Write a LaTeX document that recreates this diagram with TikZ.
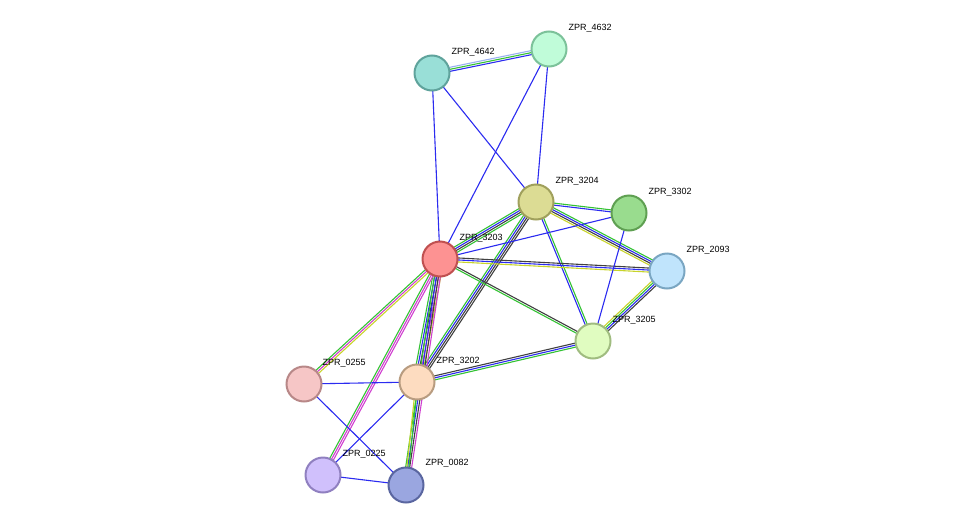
\documentclass[tikz,border=0pt]{standalone}
\usepackage{fontspec}
\setmainfont{Liberation Sans}
\usetikzlibrary{calc}
\pgfdeclarelayer{bg}\pgfsetlayers{bg,main}
\definecolor{sg}{HTML}{33C233}
\definecolor{sb}{HTML}{2B2BF0}
\definecolor{sk}{HTML}{404040}
\definecolor{sy}{HTML}{C8D42A}
\definecolor{sm}{HTML}{D040D0}
\definecolor{sl}{HTML}{9AB0F0}
\definecolor{f1}{HTML}{99DFD7}\definecolor{d1}{HTML}{5FA39C}
\definecolor{f2}{HTML}{C0FCD9}\definecolor{d2}{HTML}{7CC29A}
\definecolor{f3}{HTML}{DCDC94}\definecolor{d3}{HTML}{A0A05C}
\definecolor{f4}{HTML}{99DC8E}\definecolor{d4}{HTML}{5FA052}
\definecolor{f5}{HTML}{FD9292}\definecolor{d5}{HTML}{C05050}
\definecolor{f6}{HTML}{C0E4FC}\definecolor{d6}{HTML}{7AA6C2}
\definecolor{f7}{HTML}{E0FCC0}\definecolor{d7}{HTML}{A0BC80}
\definecolor{f8}{HTML}{F6C6C6}\definecolor{d8}{HTML}{B88888}
\definecolor{f9}{HTML}{FDDCC0}\definecolor{d9}{HTML}{B89C80}
\definecolor{f10}{HTML}{D0C0FC}\definecolor{d10}{HTML}{9080C0}
\definecolor{f11}{HTML}{9AA6E0}\definecolor{d11}{HTML}{5A66A0}
\newcommand\medge[3]{%
 \gdef\nn{0}\foreach \c in {#3}{\xdef\nn{\the\numexpr\nn+1}}%
 \foreach \c [count=\i] in {#3}{\pgfmathsetmacro\off{(\i-(\nn+1)/2)*2}
 \draw[\c, line width=1.1pt] ($(#1)!\off pt!90:(#2)$) -- ($(#2)!\off pt!-90:(#1)$);}}
\tikzset{pn/.style={circle,minimum size=35pt,inner sep=0,line width=2pt,fill=f#1,draw=d#1},
 lb/.style={font=\fontsize{9}{10}\selectfont,anchor=west}}
\begin{document}
\begin{tikzpicture}[x=1pt,y=-1pt]
\useasboundingbox (0,0) rectangle (976,530);
\node[pn=1] (n4642) at (432,73) {};
\node[pn=2] (n4632) at (549,49) {};
\node[pn=3] (n3204) at (536,202) {};
\node[pn=4] (n3302) at (629,213) {};
\node[pn=5] (n3203) at (440,259) {};
\node[pn=6] (n2093) at (667,271) {};
\node[pn=7] (n3205) at (593,341) {};
\node[pn=8] (n0255) at (304,384) {};
\node[pn=9] (n3202) at (417,382) {};
\node[pn=10] (n0225) at (323,475) {};
\node[pn=11] (n0082) at (406,485) {};
\node[lb] (l4642) at (448,52) {ZPR\_4642};
\node[lb] (l4632) at (565,28) {ZPR\_4632};
\node[lb] (l3204) at (552,181) {ZPR\_3204};
\node[lb] (l3302) at (645,192) {ZPR\_3302};
\node[lb] (l3203) at (456,238) {ZPR\_3203};
\node[lb] (l2093) at (683,250) {ZPR\_2093};
\node[lb] (l3205) at (609,320) {ZPR\_3205};
\node[lb] (l0255) at (319,363) {ZPR\_0255};
\node[lb] (l3202) at (433,361) {ZPR\_3202};
\node[lb] (l0225) at (339,454) {ZPR\_0225};
\node[lb] (l0082) at (422,463) {ZPR\_0082};
\begin{pgfonlayer}{bg}
\medge{n4642}{n4632}{sb,sg,sl}
\medge{n4642}{n3203}{sb}
\medge{n4642}{n3204}{sb}
\medge{n4632}{n3203}{sb}
\medge{n4632}{n3204}{sb}
\medge{n3204}{n3203}{sg,sb,sk,sg}
\medge{n3204}{n3302}{sb,sg}
\medge{n3204}{n2093}{sy,sk,sb,sg}
\medge{n3204}{n3205}{sb,sg}
\medge{n3204}{n3202}{sg,sb,sk,sk}
\medge{n3203}{n3302}{sb}
\medge{n3203}{n2093}{sy,sb,sk}
\medge{n3203}{n3205}{sg,sk}
\medge{n3203}{n0255}{sg,sm,sy}
\medge{n3203}{n3202}{sg,sb,sk,sm,sy}
\medge{n3203}{n0225}{sg,sm,sm}
\medge{n3203}{n0082}{sg,sb,sk,sm}
\medge{n3302}{n3205}{sb}
\medge{n2093}{n3205}{sy,sg,sb,sk}
\medge{n3202}{n3205}{sg,sb,sk}
\medge{n0255}{n3202}{sb}
\medge{n0255}{n0082}{sb}
\medge{n3202}{n0225}{sb}
\medge{n3202}{n0082}{sy,sg}
\medge{n0225}{n0082}{sb}
\end{pgfonlayer}
\end{tikzpicture}
\end{document}
